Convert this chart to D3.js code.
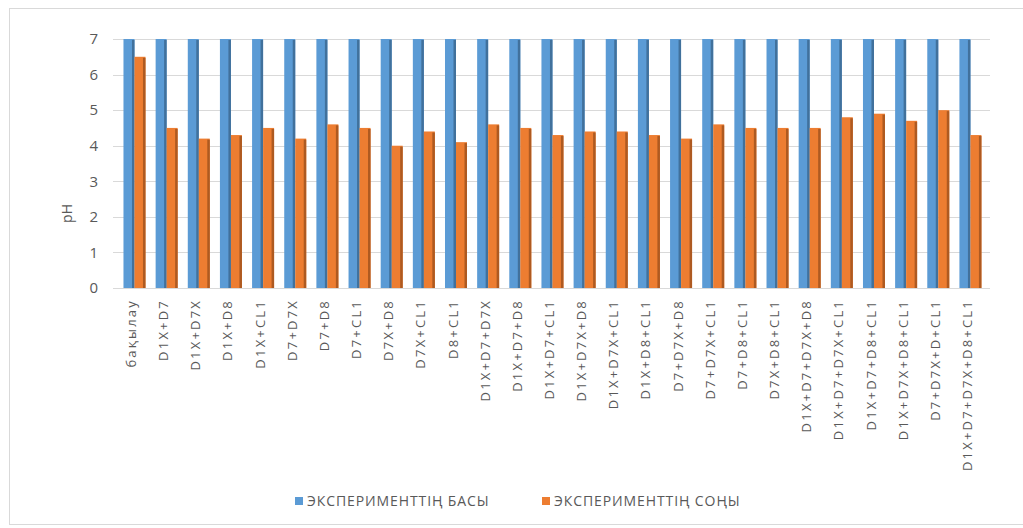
<!DOCTYPE html>
<html><head><meta charset="utf-8">
<script src="https://cdn.jsdelivr.net/npm/d3@7"></script>
<style>body{margin:0;background:#fff}svg{display:block}</style>
</head><body>
<script>
const categories = ["бақылау","D1X+D7","D1X+D7X","D1X+D8","D1X+CL1","D7+D7X","D7+D8","D7+CL1","D7X+D8","D7X+CL1","D8+CL1","D1X+D7+D7X","D1X+D7+D8","D1X+D7+CL1","D1X+D7X+D8","D1X+D7X+CL1","D1X+D8+CL1","D7+D7X+D8","D7+D7X+CL1","D7+D8+CL1","D7X+D8+CL1","D1X+D7+D7X+D8","D1X+D7+D7X+CL1","D1X+D7+D8+CL1","D1X+D7X+D8+CL1","D7+D7X+D+CL1","D1X+D7+D7X+D8+CL1"];
const startValues = [7,7,7,7,7,7,7,7,7,7,7,7,7,7,7,7,7,7,7,7,7,7,7,7,7,7,7];
const endValues = [6.5,4.5,4.2,4.3,4.5,4.2,4.6,4.5,4.0,4.4,4.1,4.6,4.5,4.3,4.4,4.4,4.3,4.2,4.6,4.5,4.5,4.5,4.8,4.9,4.7,5.0,4.3];
const seriesNames = ["ЭКСПЕРИМЕНТТІҢ БАСЫ","ЭКСПЕРИМЕНТТІҢ СОҢЫ"];
const yTicks = [0,1,2,3,4,5,6,7];
const colors = ["#5B9BD5","#ED7D31"];
const shades = ["#41719C","#AE5A21"];

const W=1023,H=528;
const svg=d3.select("body").append("svg").attr("width",W).attr("height",H);
svg.append("rect").attr("x",9.5).attr("y",8.5).attr("width",W).attr("height",516).attr("fill","#fff").attr("stroke","#d9d9d9");

const x0=118.4, x1=986.5, yTop=39, yBot=288;
const x=d3.scaleBand().domain(categories).range([x0,x1]).paddingInner(0).paddingOuter(0);
const y=d3.scaleLinear().domain([0,7]).range([yBot,yTop]);
const font="'Open Sans', 'Segoe UI', sans-serif";

// gridlines
svg.append("g").selectAll("line").data(yTicks).join("line")
  .attr("x1",113).attr("x2",990).attr("y1",d=>Math.round(y(d))+0.5).attr("y2",d=>Math.round(y(d))+0.5)
  .attr("stroke","#d9d9d9").attr("stroke-width",1);

// y axis labels
const yAxis=d3.axisLeft(y).tickValues(yTicks).tickSize(0).tickPadding(0).tickFormat(d3.format("d"));
const ya=svg.append("g").attr("transform","translate(98,0)").call(yAxis);
ya.select(".domain").remove();
ya.selectAll("text").attr("font-family",font).attr("font-size",15).attr("fill","#595959");

svg.append("text").attr("transform","translate(72,"+((yTop+yBot)/2+50)+") rotate(-90)")
  .attr("text-anchor","middle").attr("font-family",font).attr("font-size",14).attr("fill","#595959").text("pH");

const bw=11;
const groups=svg.append("g").selectAll("g").data(categories).join("g")
  .attr("transform",d=>`translate(${x(d)+x.bandwidth()/2},0)`);
[startValues,endValues].forEach((vals,s)=>{
  const off = s===0 ? -bw : 0;
  groups.append("rect").attr("x",off).attr("width",bw)
    .attr("y",(d,i)=>y(vals[i])).attr("height",(d,i)=>y(0)-y(vals[i])).attr("fill",colors[s]);
  groups.append("rect").attr("x",off+bw-2.5).attr("width",2.5)
    .attr("y",(d,i)=>y(vals[i])+1).attr("height",(d,i)=>y(0)-y(vals[i])-1).attr("fill",shades[s]);
});

// x labels
const xAxis=d3.axisBottom(x).tickSize(0).tickPadding(0);
const xa=svg.append("g").attr("transform",`translate(-3,${yBot+11})`).call(xAxis);
xa.select(".domain").remove();
xa.selectAll("text").attr("font-family",font).attr("font-size",13).attr("fill","#595959")
  .attr("letter-spacing","2.2px")
  .attr("transform","rotate(-90)").attr("text-anchor","end").attr("x",0).attr("y",0).attr("dy","0.35em");

// legend
const leg=svg.append("g").attr("font-family",font).attr("font-size",14).attr("fill","#595959").attr("letter-spacing","0.9px");
const lx=[295,542];
seriesNames.forEach((n,i)=>{
  leg.append("rect").attr("x",lx[i]).attr("y",497).attr("width",8).attr("height",8).attr("fill",colors[i]);
  leg.append("text").attr("x",lx[i]+12).attr("y",506).text(n);
});
</script>
</body></html>
